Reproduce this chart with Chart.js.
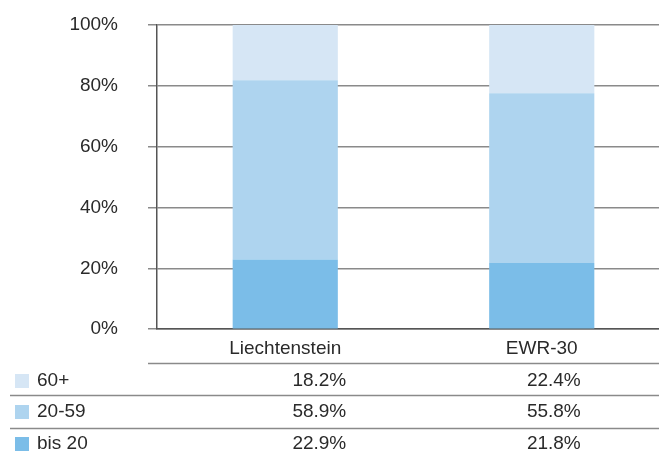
<!DOCTYPE html>
<html>
<head>
<meta charset="utf-8">
<script src="https://cdn.jsdelivr.net/npm/chart.js@4.4.1/dist/chart.umd.min.js"></script>
<style>
  html, body { margin: 0; padding: 0; background: #fff; overflow: hidden; }
  #wrap { width: 670px; height: 454px; }
</style>
</head>
<body>
<div id="wrap"><canvas id="myChart"></canvas></div>
<script>
var categories = ['Liechtenstein', 'EWR-30'];
var seriesNames = ['bis 20', '20-59', '60+'];
var bis20 = [22.9, 21.8];
var mid = [58.9, 55.8];
var over60 = [18.2, 22.4];
var yTicks = [0, 20, 40, 60, 80, 100];

var colors = ['rgb(123, 189, 232)', 'rgb(174, 212, 239)', 'rgb(214, 230, 245)'];
var font = "'Liberation Sans', Arial, sans-serif";

// draws the data table under the x axis labels
var tablePlugin = {
  id: 'table',
  afterDraw: function (chart) {
    var ctx = chart.ctx,
        x = chart.scales.x,
        right = chart.width,
        rows = [
          {name: seriesNames[2], data: over60, color: colors[2]},
          {name: seriesNames[1], data: mid, color: colors[1]},
          {name: seriesNames[0], data: bis20, color: colors[0]}
        ],
        rowY = [381, 412, 444];
    ctx.save();
    ctx.strokeStyle = '#8a8a8a';
    ctx.lineWidth = 1.5;
    ctx.beginPath();
    ctx.moveTo(148, 363.5); ctx.lineTo(right, 363.5);
    ctx.moveTo(10, 395.5); ctx.lineTo(right, 395.5);
    ctx.moveTo(10, 428.5); ctx.lineTo(right, 428.5);
    ctx.stroke();
    ctx.font = '19px ' + font;
    ctx.textBaseline = 'middle';
    rows.forEach(function (r, i) {
      ctx.fillStyle = r.color;
      ctx.fillRect(15, rowY[i] - 7, 14, 14);
      ctx.fillStyle = '#2a2a2a';
      ctx.textAlign = 'left';
      ctx.fillText(r.name, 37, rowY[i]);
      ctx.textAlign = 'right';
      r.data.forEach(function (v, j) {
        ctx.fillText(v.toFixed(1) + '%', x.getPixelForValue(j) + (j === 0 ? 61 : 39), rowY[i]);
      });
    });
    ctx.restore();
  }
};

new Chart(document.getElementById('myChart').getContext('2d'), {
  type: 'bar',
  data: {
    labels: categories,
    datasets: [
      {label: seriesNames[0], data: bis20, backgroundColor: colors[0]},
      {label: seriesNames[1], data: mid, backgroundColor: colors[1]},
      {label: seriesNames[2], data: over60, backgroundColor: colors[2]}
    ]
  },
  options: {
    responsive: true,
    maintainAspectRatio: false,
    animation: false,
    layout: {padding: {top: 25, bottom: 94, left: 0, right: 0}},
    plugins: {legend: {display: false}, tooltip: {enabled: false}},
    datasets: {bar: {barPercentage: 1, categoryPercentage: 0.41}},
    scales: {
      x: {
        stacked: true,
        grid: {display: false},
        border: {display: true, color: '#555', width: 1.5},
        ticks: {color: '#2a2a2a', font: {family: font, size: 19}, padding: 0}
      },
      y: {
        stacked: true,
        min: 0,
        max: 100,
        afterBuildTicks: function (axis) {
          axis.ticks = yTicks.map(function (v) { return {value: v}; });
        },
        afterFit: function (axis) {
          axis.width = 157;
          axis.paddingTop = 0;
          axis.paddingBottom = 0;
        },
        grid: {color: '#8a8a8a', lineWidth: 1.5, tickLength: 9},
        border: {display: true, color: '#555', width: 1.5},
        ticks: {
          color: '#2a2a2a',
          padding: 30,
          font: {family: font, size: 19},
          callback: function (v) { return v + '%'; }
        }
      }
    }
  },
  plugins: [tablePlugin]
});
</script>
</body>
</html>
